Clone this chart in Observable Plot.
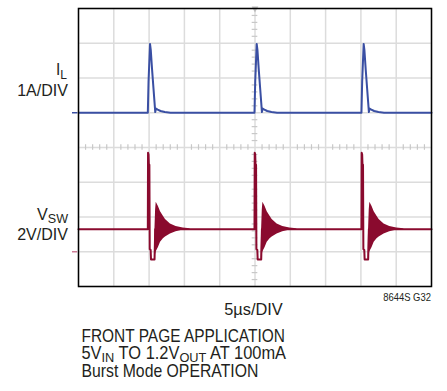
<!DOCTYPE html>
<html>
<head>
<meta charset="utf-8">
<script src="https://cdn.jsdelivr.net/npm/d3@7"></script>
<script src="https://cdn.jsdelivr.net/npm/@observablehq/plot@0.6"></script>
<style>
  html, body { margin: 0; padding: 0; background: #fff; }
  #chart { position: relative; width: 447px; height: 391px; }
  svg text { font-family: "Liberation Sans", Arial, sans-serif; }
</style>
</head>
<body>
<div id="chart"></div>
<script>
// ---- axes / grid (oscilloscope: 10 x 5µs horizontally, 8 divisions vertically)
const timeGrid = [0, 5, 10, 15, 20, 25, 30, 35, 40, 45, 50];      // µs
const divGrid = [0, 1, 2, 3, 4, 5, 6, 7, 8];                      // divisions
const timeCenter = 25;
const divCenter = 4;

// ---- channel offsets and scales
const ilZeroDiv = 5;     // I_L ground marker (division)
const ilPerDiv = 1;      // 1A/DIV
const vswZeroDiv = 1;    // V_SW ground marker (division)
const vswPerDiv = 2;     // 2V/DIV

// ---- burst pulse start times (µs)
const pulseStarts = [9.82, 24.93, 40.08];

// ---- inductor current pulse (time from pulse start µs, amps)
const ilPulseT = [0, 0.1, 0.31, 0.42, 0.6, 0.8, 0.95, 1.05, 1.15, 1.4, 1.8, 2.4, 3.2];
const ilPulseA = [0, 0.9, 1.98, 1.8, 1.25, 0.7, 0.3, 0.02, 0.12, 0.09, 0.05, 0.02, 0];

// ---- switch node voltage pulse (time from pulse start µs, volts)
const vswPulseT = [0, 0.03, 0.1, 0.14, 0.22, 0.27, 0.4, 0.45, 0.95, 1.05, 6.0];
const vswPulseV = [1.3, 5.7, 5.6, 5.05, 5.0, 0.15, 0.1, -0.45, -0.45, 1.3, 1.3];
const vswBase = 1.3;

// ---- ringing envelope after the switch turns off (µs from pulse start, volts)
const ringT  = [0.95, 1.0, 1.1, 1.19, 1.5, 1.8, 2.2, 2.5, 3.2, 4.0, 5.0, 6.0];
const ringLo = [-0.45, -0.35, -0.15, 0.0, 0.25, 0.55, 0.75, 0.85, 1.02, 1.15, 1.25, 1.29];
const ringHi = [-0.45, 1.2, 2.4, 2.85, 2.6, 2.3, 2.05, 1.85, 1.6, 1.45, 1.37, 1.32];

// ---- build traces
const ilData = [{t: 0, y: ilZeroDiv}];
const vswData = [{t: 0, y: vswZeroDiv + vswBase / vswPerDiv}];
const ringData = [];
pulseStarts.forEach((s, k) => {
  ilPulseT.forEach((t, i) => ilData.push({t: s + t, y: ilZeroDiv + ilPulseA[i] / ilPerDiv}));
  vswPulseT.forEach((t, i) => vswData.push({t: s + t, y: vswZeroDiv + vswPulseV[i] / vswPerDiv}));
  ringT.forEach((t, i) => ringData.push({p: k, t: s + t, lo: vswZeroDiv + ringLo[i] / vswPerDiv, hi: vswZeroDiv + ringHi[i] / vswPerDiv}));
});
ilData.push({t: 50, y: ilZeroDiv});
vswData.push({t: 50, y: vswZeroDiv + vswBase / vswPerDiv});

const minorX = d3.range(1, 50).filter(v => v % 5 !== 0);
const minorY = d3.range(1, 40).map(v => v / 5).filter(v => Math.abs(v - Math.round(v)) > 1e-6);

const IL_COLOR = "#3a4fa3";
const VSW_COLOR = "#8a0a2e";

const plot = Plot.plot({
  width: 447,
  height: 391,
  marginLeft: 78,
  marginRight: 16,
  marginTop: 8,
  marginBottom: 105,
  x: {domain: [0, 50], axis: null},
  y: {domain: [0, 8], axis: null},
  marks: [
    Plot.ruleX(timeGrid, {stroke: "#dcdcdc", strokeWidth: 1.5}),
    Plot.ruleY(divGrid, {stroke: "#dcdcdc", strokeWidth: 1.5}),
    Plot.ruleY(minorY, {x1: timeCenter - 0.4, x2: timeCenter + 0.4, stroke: "#c8c8c8", strokeWidth: 1.2}),
    Plot.ruleX(minorX, {y1: divCenter - 0.08, y2: divCenter + 0.08, stroke: "#c8c8c8", strokeWidth: 1.2}),
    Plot.dot([{t: timeCenter, y: 8}], {x: "t", y: "y", symbol: "triangle", r: 2.5, fill: "#bdbdbd", rotate: 180}),
    Plot.ruleY([ilZeroDiv], {x1: -0.85, x2: -0.12, stroke: IL_COLOR, strokeWidth: 1.5, clip: false}),
    Plot.ruleY([vswZeroDiv], {x1: -0.85, x2: -0.12, stroke: "#cc7a95", strokeWidth: 1.5, clip: false}),
    Plot.line(vswData, {x: "t", y: "y", stroke: VSW_COLOR, strokeWidth: 2}),
    Plot.areaY(ringData, {x: "t", y1: "lo", y2: "hi", z: "p", fill: VSW_COLOR, curve: "linear"}),
    Plot.line(ilData, {x: "t", y: "y", stroke: IL_COLOR, strokeWidth: 2}),
    Plot.frame({stroke: "#000", strokeWidth: 1.5})
  ]
});
document.getElementById("chart").appendChild(plot);

// ---- labels (condensed to the reference's narrow type by horizontal scaling)
const svg = d3.select(plot);
function label(x, y, size, anchor, width, parts) {
  const t = svg.append("text").attr("x", x).attr("y", y).attr("text-anchor", anchor)
    .attr("font-size", size).attr("fill", "#231f20");
  parts.forEach(p => {
    const ts = t.append("tspan").text(p.s);
    if (p.sub) ts.attr("font-size", size * 0.78).attr("dy", p.dy || 4);
    if (p.up) ts.attr("dy", -(p.dy || 4));
  });
  const w = t.node().getBBox().width;
  if (w > 0 && width) {
    const k = width / w;
    t.attr("transform", `translate(${x},0) scale(${k},1) translate(${-x},0)`);
  }
}
label(67, 75, 17, "end", 11, [{s: "I"}, {s: "L", sub: true}]);
label(68, 96, 17, "end", 51.5, [{s: "1A/DIV"}]);
label(68, 220, 17, "end", 31.5, [{s: "V"}, {s: "SW", sub: true, dy: 3}]);
label(68, 240, 17, "end", 51.5, [{s: "2V/DIV"}]);
label(253.5, 315, 16, "middle", 59, [{s: "5µs/DIV"}]);
label(431, 301, 10.5, "end", 48, [{s: "8644S G32"}]);
label(81.5, 342, 17.5, "start", 203.5, [{s: "FRONT PAGE APPLICATION"}]);
label(81.5, 359, 17.5, "start", 205, [{s: "5V"}, {s: "IN", sub: true, dy: 3}, {s: " TO 1.2V", up: true, dy: 3}, {s: "OUT", sub: true, dy: 3}, {s: " AT 100mA", up: true, dy: 3}]);
label(81.5, 377, 17.5, "start", 177, [{s: "Burst Mode OPERATION"}]);
</script>
</body>
</html>
